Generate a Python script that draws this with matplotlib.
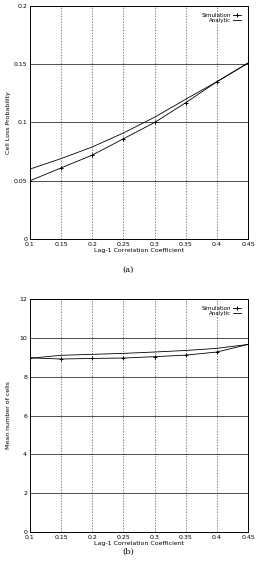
import matplotlib
matplotlib.use("Agg")
import matplotlib.pyplot as plt

x = [0.1, 0.15, 0.2, 0.25, 0.3, 0.35, 0.4, 0.45]
clp_sim = [0.050, 0.061, 0.072, 0.086, 0.100, 0.117, 0.135, 0.151]
clp_ana = [0.060, 0.069, 0.079, 0.091, 0.1045, 0.120, 0.135, 0.151]
cells_sim = [8.97, 8.91, 8.94, 8.96, 9.03, 9.11, 9.27, 9.66]
cells_ana = [8.95, 9.10, 9.15, 9.20, 9.27, 9.35, 9.46, 9.66]
xticks = [0.1, 0.15, 0.2, 0.25, 0.3, 0.35, 0.4, 0.45]
xticklabels = ["0.1", "0.15", "0.2", "0.25", "0.3", "0.35", "0.4", "0.45"]

plt.rcParams['font.family'] = ['Liberation Sans Narrow', 'DejaVu Sans']

fig = plt.figure(figsize=(2.56, 5.69), dpi=100)
ax1 = fig.add_axes([0.117, 0.580, 0.852, 0.4095])
ax2 = fig.add_axes([0.117, 0.065, 0.852, 0.4095])

def style(ax, yticks, ylabels, ylim, ylabel):
    ax.set_xlim(0.1, 0.45)
    ax.set_ylim(*ylim)
    ax.set_xticks(xticks)
    ax.set_xticklabels(xticklabels)
    ax.set_yticks(yticks)
    ax.set_yticklabels(ylabels)
    ax.tick_params(labelsize=4.5, length=0, pad=2)
    for t in xticks[1:-1]:
        ax.axvline(t, color='#555555', lw=0.5, ls=(0, (2, 2)), zorder=0)
    for t in yticks[1:-1]:
        ax.axhline(t, color='#333333', lw=0.6, zorder=0)
    for s in ax.spines.values():
        s.set_linewidth(0.7)
    ax.set_xlabel("Lag-1 Correlation Coefficient", fontsize=4.5, labelpad=1)
    ax.set_ylabel(ylabel, fontsize=4.5)
    ax.yaxis.set_label_coords(-0.085, 0.5)

ax1.plot(x, clp_sim, color='black', lw=0.6, marker='+', ms=3, mew=0.7, label='Simulation')
ax1.plot(x, clp_ana, color='black', lw=0.6, label='Analytic')
style(ax1, [0, 0.05, 0.1, 0.15, 0.2], ["0", "0.05", "0.1", "0.15", "0.2"], (0, 0.2), "Cell Loss Probability")

ax2.plot(x, cells_sim, color='black', lw=0.6, marker='+', ms=3, mew=0.7, label='Simulation')
ax2.plot(x, cells_ana, color='black', lw=0.6, label='Analytic')
style(ax2, [0, 2, 4, 6, 8, 10, 12], ["0", "2", "4", "6", "8", "10", "12"], (0, 12), "Mean number of cells")

for ax in (ax1, ax2):
    leg = ax.legend(loc='upper right', fontsize=4, frameon=False, markerfirst=False,
                    handlelength=1.5, handletextpad=0.4, labelspacing=0.1, borderaxespad=0.8)

fig.text(0.5, 0.5255, "(a)", ha='center', va='center', fontsize=6, family='DejaVu Serif')
fig.text(0.5, 0.030, "(b)", ha='center', va='center', fontsize=6, family='DejaVu Serif')

fig.savefig("out.png", dpi=100, facecolor='white')
